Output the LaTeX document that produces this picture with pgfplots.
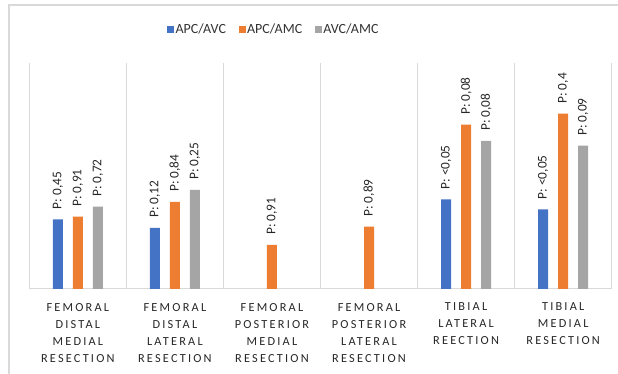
\documentclass[border=0pt]{standalone}
\usepackage{fontspec}
\setmainfont{Carlito}
\newfontfamily\spaced[LetterSpace=18]{Carlito}
\usepackage{pgfplots}
\pgfplotsset{compat=1.18}
\definecolor{cblue}{HTML}{4472C4}
\definecolor{corange}{HTML}{ED7D31}
\definecolor{cgray}{HTML}{A5A5A5}
\definecolor{cgrid}{HTML}{D9D9D9}
\definecolor{ctext}{HTML}{404040}
\begin{document}
\begin{tikzpicture}[x=1pt,y=1pt]
\useasboundingbox (0,0) rectangle (618,374);
\draw[cgrid, line width=1.3pt] (9,0) -- (9,369) -- (618,369);
\begin{axis}[
  at={(29.3pt,85pt)}, anchor=south west,
  scale only axis, width=582.4pt, height=226pt,
  ymin=0, ymax=226, xmin=-0.5, xmax=5.5,
  clip=false,
  axis x line=bottom, axis y line=none,
  x axis line style={-, cgrid, line width=1pt},
  ybar=10pt, bar width=10pt,
  xtick={0,1,2,3,4,5},
  major tick length=0pt,
  xticklabels={{FEMORAL\\DISTAL\\MEDIAL\\RESECTION},{FEMORAL\\DISTAL\\LATERAL\\RESECTION},{FEMORAL\\POSTERIOR\\MEDIAL\\RESECTION},{FEMORAL\\POSTERIOR\\LATERAL\\RESECTION},{TIBIAL\\LATERAL\\REECTION},{TIBIAL\\MEDIAL\\RESECTION}},
  xticklabel style={align=center, font={\spaced\fontsize{12.3}{17}\selectfont}, text=black!85, anchor=north, yshift=-10.5pt},
  extra x ticks={-0.5,0.5,1.5,2.5,3.5,4.5,5.5},
  extra x tick labels={},
  extra x tick style={grid=major, major tick length=0pt},
  grid style={cgrid, line width=1pt},
  nodes near coords,
  point meta=explicit symbolic,
  every node near coord/.append style={rotate=90, anchor=west, inner sep=0pt, inner xsep=10pt, font=\fontsize{13.3}{15}\selectfont, text=black!85},
  legend columns=3,
  legend style={at={(0.4193,1.150)}, anchor=center, draw=none, fill=none, font=\fontsize{14}{16}\selectfont, text=black!80, nodes={inner sep=1.5pt}, /tikz/every even column/.append style={column sep=11pt}},
  legend image code/.code={\fill[#1] (0pt,-3.5pt) rectangle (7pt,3.5pt);},
]
\addplot[fill=cblue, draw=none] coordinates {(0,69.7) [P: 0,45] (1,61) [P: 0,12] (4,89.7) [P: <0,05] (5,79.7) [P: <0,05]};
\addplot[fill=corange, draw=none] coordinates {(0,72.3) [P: 0,91] (1,87) [P: 0,84] (2,44) [P: 0,91] (3,62.3) [P: 0,89] (4,164.3) [P: 0,08] (5,175.3) [P: 0,4]};
\addplot[fill=cgray, draw=none] coordinates {(0,82.3) [P: 0,72] (1,99) [P: 0,25] (4,148) [P: 0,08] (5,143.3) [P: 0,09]};
\legend{APC/AVC,APC/AMC,AVC/AMC}
\end{axis}
\end{tikzpicture}
\end{document}
